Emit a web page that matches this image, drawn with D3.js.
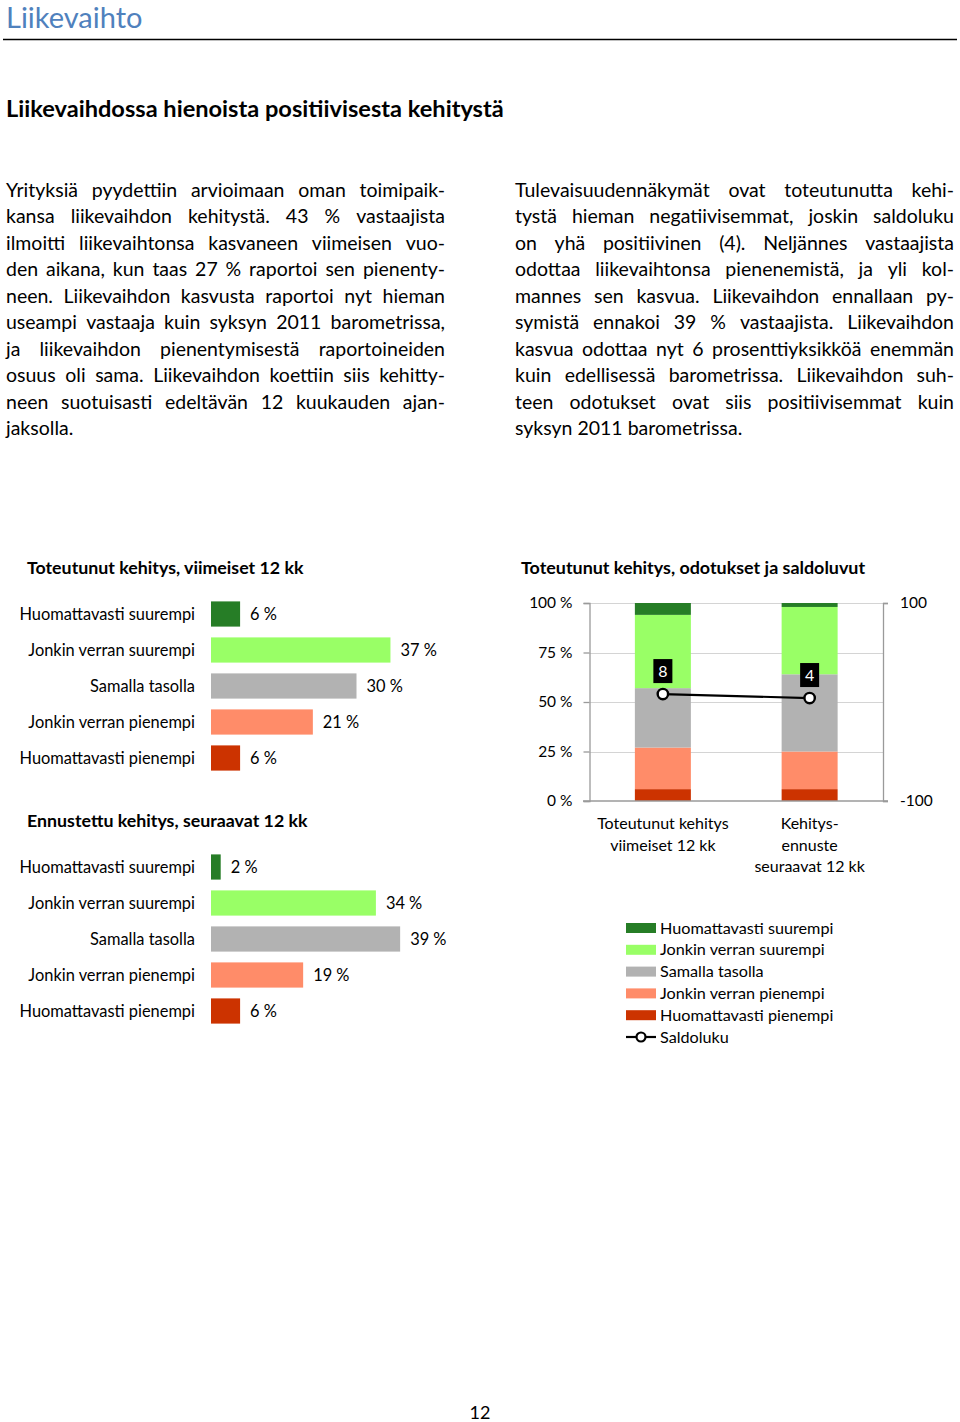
<!DOCTYPE html>
<html>
<head>
<meta charset="utf-8">
<script src="https://cdn.jsdelivr.net/npm/d3@7"></script>
<style>
  body { margin: 0; background: #fff; }
  svg { display: block; }
  text { font-family: Lato, "Open Sans", sans-serif; fill: #000; }
</style>
</head>
<body>
<div id="page"></div>
<script>
// ---- data ----
const pageTitle = 'Liikevaihto';
const heading = 'Liikevaihdossa hienoista positiivisesta kehitystä';

const leftText = [
  'Yrityksiä pyydettiin arvioimaan oman toimipaik-',
  'kansa liikevaihdon kehitystä. 43 % vastaajista',
  'ilmoitti liikevaihtonsa kasvaneen viimeisen vuo-',
  'den aikana, kun taas 27 % raportoi sen pienenty-',
  'neen. Liikevaihdon kasvusta raportoi nyt hieman',
  'useampi vastaaja kuin syksyn 2011 barometrissa,',
  'ja liikevaihdon pienentymisestä raportoineiden',
  'osuus oli sama. Liikevaihdon koettiin siis kehitty-',
  'neen suotuisasti edeltävän 12 kuukauden ajan-',
  'jaksolla.'
];
const rightText = [
  'Tulevaisuudennäkymät ovat toteutunutta kehi-',
  'tystä hieman negatiivisemmat, joskin saldoluku',
  'on yhä positiivinen (4). Neljännes vastaajista',
  'odottaa liikevaihtonsa pienenemistä, ja yli kol-',
  'mannes sen kasvua. Liikevaihdon ennallaan py-',
  'symistä ennakoi 39 % vastaajista. Liikevaihdon',
  'kasvua odottaa nyt 6 prosenttiyksikköä enemmän',
  'kuin edellisessä barometrissa. Liikevaihdon suh-',
  'teen odotukset ovat siis positiivisemmat kuin',
  'syksyn 2011 barometrissa.'
];

const levels = ['Huomattavasti suurempi', 'Jonkin verran suurempi', 'Samalla tasolla',
                'Jonkin verran pienempi', 'Huomattavasti pienempi'];
const levelColors = ['#267d26', '#99ff66', '#b2b2b2', '#ff8c69', '#cc3300'];

const realised = [6, 37, 30, 21, 6];   // Toteutunut kehitys, viimeiset 12 kk
const forecast = [2, 34, 39, 19, 6];   // Ennustettu kehitys, seuraavat 12 kk

const stackCats = ['Toteutunut kehitys|viimeiset 12 kk', 'Kehitys-|ennuste|seuraavat 12 kk'];
const saldo = [8, 4];
const pctTicks = [0, 25, 50, 75, 100];
const saldoTicks = [-100, 100];
const pageNumber = '12';

// ---- page ----
const W = 960, H = 1422;
const svg = d3.select('#page').append('svg').attr('width', W).attr('height', H);

svg.append('text').attr('x', 6).attr('y', 28)
  .attr('font-size', 29).style('fill', '#4f81bd')
  .text(pageTitle);
svg.append('line').attr('x1', 3).attr('x2', 957).attr('y1', 39.5).attr('y2', 39.5)
  .attr('stroke', '#000').attr('stroke-width', 1.3);

svg.append('text').attr('x', 6).attr('y', 117)
  .attr('font-size', 23.6).attr('font-weight', 700).text(heading);

// justified paragraph, word by word
function paragraph(lines, x0, width, y0, step, size) {
  const g = svg.append('g').attr('font-size', size);
  lines.forEach((line, i) => {
    const y = y0 + i * step;
    if (i === lines.length - 1) {
      g.append('text').attr('x', x0).attr('y', y).text(line);
      return;
    }
    const words = line.split(' ');
    const nodes = words.map(w => g.append('text').attr('y', y).text(w));
    const widths = nodes.map(n => n.node().getComputedTextLength());
    const gap = (width - d3.sum(widths)) / (words.length - 1);
    let x = x0;
    nodes.forEach((n, j) => { n.attr('x', x); x += widths[j] + gap; });
  });
}
paragraph(leftText, 6, 439, 197, 26.45, 19.5);
paragraph(rightText, 515, 439, 197, 26.45, 19.5);

// ---- horizontal bar charts ----
const xBar = d3.scaleLinear().domain([0, 40]).range([211, 405]);

function barChart(title, values, top) {
  const g = svg.append('g');
  g.append('text').attr('x', 27).attr('y', top - 22)
    .attr('font-size', 17.8).attr('font-weight', 700).text(title);

  const y = d3.scaleBand().domain(levels).range([top, top + 180])
    .paddingInner(0.3).paddingOuter(0.15);

  const rows = g.selectAll('g.row').data(levels.map((l, i) => ({ level: l, v: values[i], c: levelColors[i] })))
    .join('g').attr('class', 'row');

  rows.append('rect')
    .attr('x', xBar(0)).attr('y', d => y(d.level))
    .attr('width', d => xBar(d.v) - xBar(0)).attr('height', y.bandwidth())
    .attr('fill', d => d.c);

  rows.append('text').attr('x', 195).attr('y', d => y(d.level) + y.bandwidth() / 2)
    .attr('dy', '0.35em').attr('text-anchor', 'end').attr('font-size', 16.4)
    .text(d => d.level);

  rows.append('text').attr('x', d => xBar(d.v) + 10).attr('y', d => y(d.level) + y.bandwidth() / 2)
    .attr('dy', '0.35em').attr('font-size', 16.4)
    .text(d => d.v + ' %');
}
barChart('Toteutunut kehitys, viimeiset 12 kk', realised, 596);
barChart('Ennustettu kehitys, seuraavat 12 kk', forecast, 849);

// ---- stacked chart with saldo line ----
const sg = svg.append('g');
sg.append('text').attr('x', 521).attr('y', 574)
  .attr('font-size', 17.9).attr('font-weight', 700).text('Toteutunut kehitys, odotukset ja saldoluvut');

const xS = d3.scalePoint().domain(stackCats).range([589.5, 883]).padding(0.5);
const yL = d3.scaleLinear().domain([0, 100]).range([801, 603]);
const yR = d3.scaleLinear().domain([-100, 100]).range([801, 603]);
const barW = 56;

// grid
sg.append('g').selectAll('line').data(pctTicks.slice(1)).join('line')
  .attr('x1', 589.5).attr('x2', 883).attr('y1', d => Math.round(yL(d)) + 0.5).attr('y2', d => Math.round(yL(d)) + 0.5)
  .attr('stroke', '#d4d4d4');

// stacked bars, bottom = Huomattavasti pienempi
const stackRows = stackCats.map((c, i) => {
  const vals = i === 0 ? realised : forecast;
  const o = { cat: c };
  levels.forEach((l, j) => { o[l] = vals[j]; });
  return o;
});
const series = d3.stack().keys(levels.slice().reverse())(stackRows);
sg.append('g').selectAll('g').data(series).join('g')
  .attr('fill', d => levelColors[levels.indexOf(d.key)])
  .selectAll('rect').data(d => d).join('rect')
  .attr('x', d => xS(d.data.cat) - barW / 2).attr('width', barW)
  .attr('y', d => yL(d[1])).attr('height', d => yL(d[0]) - yL(d[1]));

// axes
const axisL = sg.append('g').attr('transform', 'translate(589.5,0)')
  .call(d3.axisLeft(yL).tickValues(pctTicks).tickSize(6).tickFormat(d => d + ' %'));
const axisR = sg.append('g').attr('transform', 'translate(883,0)')
  .call(d3.axisRight(yR).tickValues(saldoTicks).tickSize(5).tickFormat(d => String(d)));
[axisL, axisR].forEach(a => {
  a.select('.domain').attr('stroke', '#9a9a9a').attr('stroke-width', 1.3);
  a.selectAll('.tick line').attr('stroke', '#9a9a9a').attr('stroke-width', 1.3);
  a.selectAll('.tick text').attr('font-size', 15.5).attr('font-family', 'Lato, sans-serif').style('fill', '#000');
});
axisL.selectAll('.tick text').attr('x', -17);
axisR.selectAll('.tick text').attr('x', 17);
sg.append('line').attr('x1', 583).attr('x2', 888).attr('y1', yL(0)).attr('y2', yL(0))
  .attr('stroke', '#9a9a9a').attr('stroke-width', 1.3);

// category labels
stackCats.forEach(c => {
  c.split('|').forEach((part, k) => {
    sg.append('text').attr('x', xS(c)).attr('y', 829 + k * 21.5)
      .attr('text-anchor', 'middle').attr('font-size', 16).text(part);
  });
});

// saldo line
const saldoPts = stackCats.map((c, i) => ({ cat: c, v: saldo[i] }));
sg.append('path').datum(saldoPts)
  .attr('d', d3.line().x(d => xS(d.cat)).y(d => yR(d.v)))
  .attr('fill', 'none').attr('stroke', '#000').attr('stroke-width', 2.2);
sg.selectAll('circle.saldo').data(saldoPts).join('circle').attr('class', 'saldo')
  .attr('cx', d => xS(d.cat)).attr('cy', d => yR(d.v)).attr('r', 5.2)
  .attr('fill', '#fff').attr('stroke', '#000').attr('stroke-width', 2.4);
const lab = sg.selectAll('g.lab').data(saldoPts).join('g').attr('class', 'lab')
  .attr('transform', d => `translate(${xS(d.cat)},${yR(d.v) - 23})`);
lab.append('rect').attr('x', -9.5).attr('y', -12).attr('width', 19).attr('height', 24).attr('fill', '#000');
lab.append('text').attr('text-anchor', 'middle').attr('dy', '0.35em')
  .attr('font-size', 16).style('fill', '#fff').text(d => d.v);

// legend
const lg = svg.append('g').attr('transform', 'translate(626,928)');
const legRows = levels.map((l, i) => ({ name: l, color: levelColors[i] })).concat([{ name: 'Saldoluku', line: true }]);
const li = lg.selectAll('g').data(legRows).join('g')
  .attr('transform', (d, i) => `translate(0,${i * 21.8})`);
li.filter(d => !d.line).append('rect')
  .attr('x', 0).attr('y', -5).attr('width', 30).attr('height', 10).attr('fill', d => d.color);
const sl = li.filter(d => d.line);
sl.append('line').attr('x1', 0).attr('x2', 30).attr('stroke', '#000').attr('stroke-width', 2.2);
sl.append('circle').attr('cx', 15).attr('r', 4.5).attr('fill', '#fff').attr('stroke', '#000').attr('stroke-width', 2.2);
li.append('text').attr('x', 34).attr('dy', '0.35em').attr('font-size', 16.2).text(d => d.name);

svg.append('text').attr('x', 480).attr('y', 1413).attr('dy', '0.35em').attr('text-anchor', 'middle')
  .attr('font-size', 18).text(pageNumber);
</script>
</body>
</html>
